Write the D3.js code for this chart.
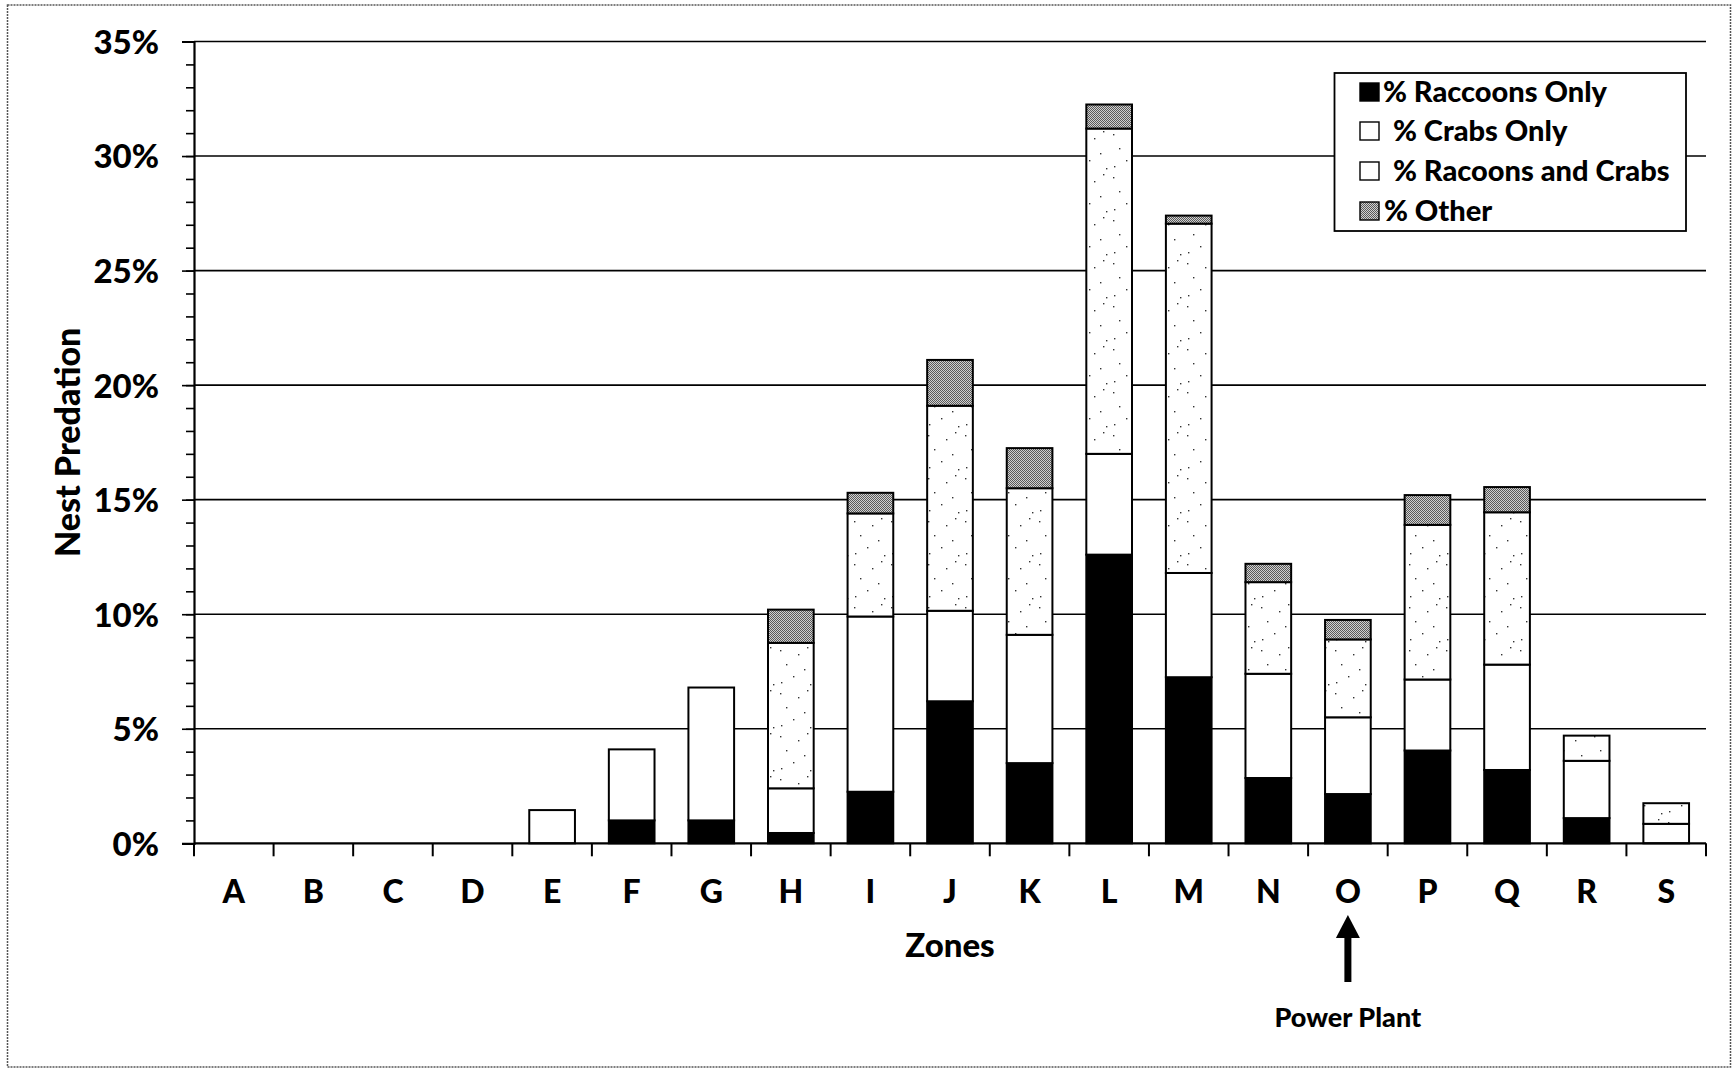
<!DOCTYPE html>
<html>
<head>
<meta charset="utf-8">
<script src="https://cdn.jsdelivr.net/npm/d3@7/dist/d3.min.js"></script>
<style>
  html, body { margin: 0; padding: 0; background: #fff; }
  svg { display: block; }
  text { font-family: Lato, "Open Sans", sans-serif; font-weight: 900; fill: #000; }
</style>
</head>
<body>
<svg id="chart" width="1732" height="1069"></svg>
<script>
// Zones along the shoreline
const zones = ["A","B","C","D","E","F","G","H","I","J","K","L","M","N","O","P","Q","R","S"];

// Share of nests predated in each zone (percent), by cause
const raccoonsOnly    = [0, 0, 0, 0, 0,    1.0, 1.0, 0.45, 2.25, 6.2,  3.5,  12.6, 7.25,  2.85, 2.15, 4.05, 3.2,  1.1, 0];
const crabsOnly       = [0, 0, 0, 0, 1.45, 3.1, 5.8, 1.95, 7.65, 3.95, 5.6,  4.4,  4.55,  4.55, 3.35, 3.1,  4.6,  2.5, 0.85];
const raccoonsAndCrabs= [0, 0, 0, 0, 0,    0,   0,   6.35, 4.5,  8.95, 6.4,  14.2, 15.25, 4.0,  3.4,  6.75, 6.65, 1.1, 0.9];
const other           = [0, 0, 0, 0, 0,    0,   0,   1.45, 0.9,  2.0,  1.75, 1.05, 0.35,  0.8,  0.85, 1.3,  1.1,  0,   0];

const seriesKeys   = ["raccoons", "crabs", "both", "other"];
const seriesLabels = ["% Raccoons Only", "% Crabs Only", "% Racoons and Crabs", "% Other"];

const yTicksMajor = [0, 0.05, 0.10, 0.15, 0.20, 0.25, 0.30, 0.35];
const yTicksMinor = d3.range(0, 36).map(d => d / 100);

const xAxisTitle = "Zones";
const yAxisTitle = "Nest Predation";
const markerZone = "O";
const markerLabel = "Power Plant";

// Build stacked rows from the series arrays
const rows = zones.map((z, i) => ({
  zone: z,
  raccoons: raccoonsOnly[i] / 100,
  crabs: crabsOnly[i] / 100,
  both: raccoonsAndCrabs[i] / 100,
  other: other[i] / 100
}));
const stacked = d3.stack().keys(seriesKeys)(rows);

const svg = d3.select("#chart");
const plot = { left: 194, right: 1706, top: 41.5, bottom: 843.3 };

// Fills: solid black, plain white, white with sparse stipple, grey screen
const defs = svg.append("defs");
const stip = defs.append("pattern").attr("id", "stipple")
  .attr("patternUnits", "userSpaceOnUse").attr("width", 37).attr("height", 43);
stip.append("rect").attr("width", 37).attr("height", 43).attr("fill", "#fff");
[[3, 5], [21, 9], [30, 2], [9, 19], [27, 24], [16, 31], [4, 37], [33, 39]].forEach(([cx, cy]) =>
  stip.append("rect").attr("x", cx).attr("y", cy).attr("width", 1.4).attr("height", 1.4).attr("fill", "#333"));

const screen = defs.append("pattern").attr("id", "screen")
  .attr("patternUnits", "userSpaceOnUse").attr("width", 2).attr("height", 2);
screen.append("rect").attr("width", 2).attr("height", 2).attr("fill", "#d0d0d0");
[[0, 0], [1, 1]].forEach(([px, py]) =>
  screen.append("rect").attr("x", px).attr("y", py).attr("width", 1).attr("height", 1).attr("fill", "#5a5a5a"));

const fills = { raccoons: "#000", crabs: "#fff", both: "url(#stipple)", other: "url(#screen)" };

// Outer dotted frame
svg.append("rect")
  .attr("x", 7.5).attr("y", 5).attr("width", 1723).attr("height", 1062)
  .attr("fill", "none").attr("stroke", "#555").attr("stroke-width", 1.5)
  .attr("stroke-dasharray", "2,1");

// Scales
const pad = 0.426;
const x = d3.scaleBand().domain(zones).range([plot.left, plot.right])
  .paddingInner(pad).paddingOuter(pad / 2);
const y = d3.scaleLinear().domain([0, 0.35]).range([plot.bottom, plot.top]);

// Horizontal gridlines
svg.append("g").selectAll("line").data(yTicksMajor.slice(1)).join("line")
  .attr("x1", plot.left).attr("x2", plot.right)
  .attr("y1", d => y(d)).attr("y2", d => y(d))
  .attr("stroke", "#000").attr("stroke-width", 1.6);

// Y axis: minor ticks every 1%, major ticks with labels every 5%
const yMinor = svg.append("g").attr("transform", `translate(${plot.left},0)`)
  .call(d3.axisLeft(y).tickValues(yTicksMinor).tickSize(8).tickFormat(""));
yMinor.select(".domain").remove();
yMinor.selectAll("line").attr("stroke", "#000").attr("stroke-width", 1.6);

const yMajor = svg.append("g").attr("transform", `translate(${plot.left},0)`)
  .call(d3.axisLeft(y).tickValues(yTicksMajor).tickSize(12).tickPadding(23)
    .tickFormat(d3.format(".0%")));
yMajor.select(".domain").attr("stroke", "#000").attr("stroke-width", 2.2);
yMajor.selectAll("line").attr("stroke", "#000").attr("stroke-width", 1.6);
yMajor.selectAll("text").style("font-size", "33px").attr("dy", "0.36em");

// Stacked bars
svg.append("g").selectAll("g").data(stacked).join("g")
  .attr("fill", d => fills[d.key])
  .selectAll("rect").data(d => d.filter(s => s[1] - s[0] > 0)).join("rect")
  .attr("x", d => x(d.data.zone))
  .attr("width", x.bandwidth())
  .attr("y", d => y(d[1]))
  .attr("height", d => y(d[0]) - y(d[1]))
  .attr("stroke", "#000").attr("stroke-width", 2);

// X axis: baseline, boundary ticks between zones, zone labels at centres
svg.append("line")
  .attr("x1", plot.left).attr("x2", plot.right)
  .attr("y1", plot.bottom).attr("y2", plot.bottom)
  .attr("stroke", "#000").attr("stroke-width", 2.2);
const boundaries = zones.map(z => x(z) - x.step() * pad / 2).concat([plot.right]);
svg.append("g").selectAll("line").data(boundaries).join("line")
  .attr("x1", d => d).attr("x2", d => d)
  .attr("y1", plot.bottom).attr("y2", plot.bottom + 13)
  .attr("stroke", "#000").attr("stroke-width", 2);

const xAxis = svg.append("g").attr("transform", `translate(0,${plot.bottom})`)
  .call(d3.axisBottom(x).tickSize(0).tickPadding(60));
xAxis.select(".domain").remove();
xAxis.selectAll("text").style("font-size", "32px").attr("dy", "0");

// Axis titles
svg.append("text")
  .attr("x", (plot.left + plot.right) / 2).attr("y", 957)
  .attr("text-anchor", "middle").style("font-size", "33px")
  .text(xAxisTitle);

svg.append("text")
  .attr("transform", `translate(80,${(plot.top + plot.bottom) / 2}) rotate(-90)`)
  .attr("text-anchor", "middle").style("font-size", "34px")
  .text(yAxisTitle);

// Arrow marking the power plant zone
const ax = x(markerZone) + x.bandwidth() / 2;
svg.append("rect")
  .attr("x", ax - 3.5).attr("y", 934).attr("width", 7).attr("height", 48)
  .attr("fill", "#000");
svg.append("path")
  .attr("d", `M${ax},915 L${ax + 12},938 L${ax - 12},938 Z`)
  .attr("fill", "#000");
svg.append("text")
  .attr("x", ax).attr("y", 1027)
  .attr("text-anchor", "middle").style("font-size", "27px")
  .text(markerLabel);

// Legend
const legend = svg.append("g");
legend.append("rect")
  .attr("x", 1334.5).attr("y", 73).attr("width", 351.5).attr("height", 158)
  .attr("fill", "#fff").attr("stroke", "#000").attr("stroke-width", 1.8);
const rowY = [92, 131, 171, 211];
const textX = [1383, 1393, 1393, 1384];
seriesKeys.forEach((k, i) => {
  legend.append("rect")
    .attr("x", 1360).attr("y", rowY[i] - 9).attr("width", 19).attr("height", 18)
    .attr("fill", k === "both" ? "#fff" : fills[k])
    .attr("stroke", "#000").attr("stroke-width", 1.4);
  legend.append("text")
    .attr("x", textX[i]).attr("y", rowY[i]).attr("dy", "0.36em")
    .style("font-size", "29px")
    .text(seriesLabels[i]);
});
</script>
</body>
</html>
